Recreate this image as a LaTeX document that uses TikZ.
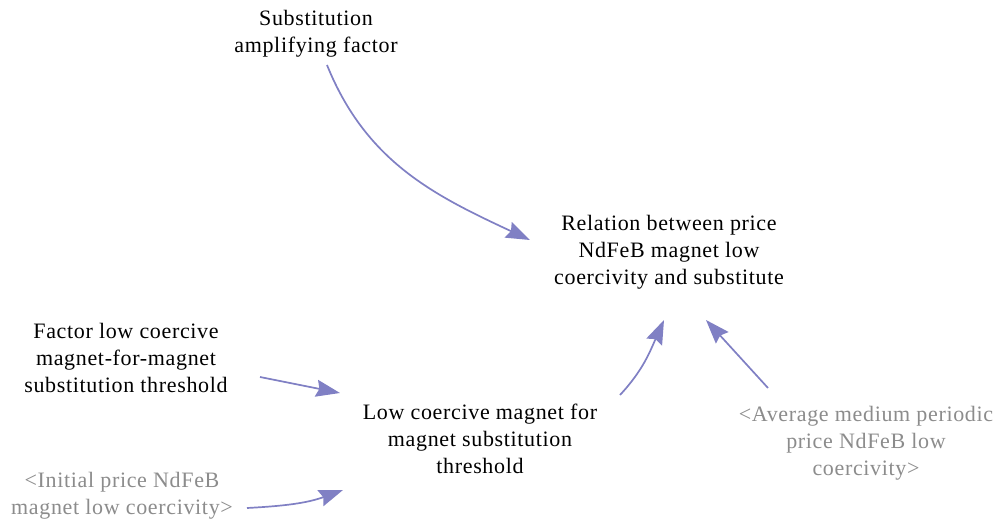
\documentclass[tikz,border=0pt]{standalone}
\usepackage{fontspec}
\setmainfont{Liberation Serif}[LetterSpace=3]
\usetikzlibrary{arrows.meta}
\definecolor{arrowblue}{RGB}{128,128,196}
\definecolor{shadowgrey}{RGB}{140,140,140}
\begin{document}
\begin{tikzpicture}[x=1pt,y=1pt,
  every node/.style={inner sep=0pt,outer sep=0pt,align=center,
    font=\fontsize{22}{27}\selectfont},
  var/.style={text=black},
  shadow/.style={text=shadowgrey},
  arr/.style={draw=arrowblue,line width=1.7pt,
    -{Stealth[length=24pt,width=17pt,inset=3pt]}}]
\useasboundingbox[fill=white] (0,0) rectangle (997,520);
\node[var] (sub) at (316,486) {Substitution\\amplifying factor};
\node[var] (rel) at (669,268) {Relation between price\\NdFeB magnet low\\coercivity and substitute};
\node[var] (fac) at (126,162) {Factor low coercive\\magnet-for-magnet\\substitution threshold};
\node[var] (low) at (480,81) {Low coercive magnet for\\magnet substitution\\threshold};
\node[shadow] (ini) at (122,24) {<Initial price NdFeB\\magnet low coercivity>};
\node[shadow] (avg) at (866,77) {<Average medium periodic\\price NdFeB low\\coercivity>};
\draw[arr] ([shift={(11,-31)}]sub.center) to[out=-68,in=155] ([shift={(-139,12)}]rel.center);
\draw[arr] ([shift={(134,-19)}]fac.center) -- ([shift={(-140,46)}]low.center);
\draw[arr] ([shift={(125,-12)}]ini.center) to[out=3,in=200] ([shift={(-137,-51)}]low.center);
\draw[arr] ([shift={(140,44)}]low.center) to[out=47,in=-114] ([shift={(-5,-68)}]rel.center);
\draw[arr] ([shift={(-98,55)}]avg.center) -- ([shift={(37,-68)}]rel.center);
\end{tikzpicture}
\end{document}
